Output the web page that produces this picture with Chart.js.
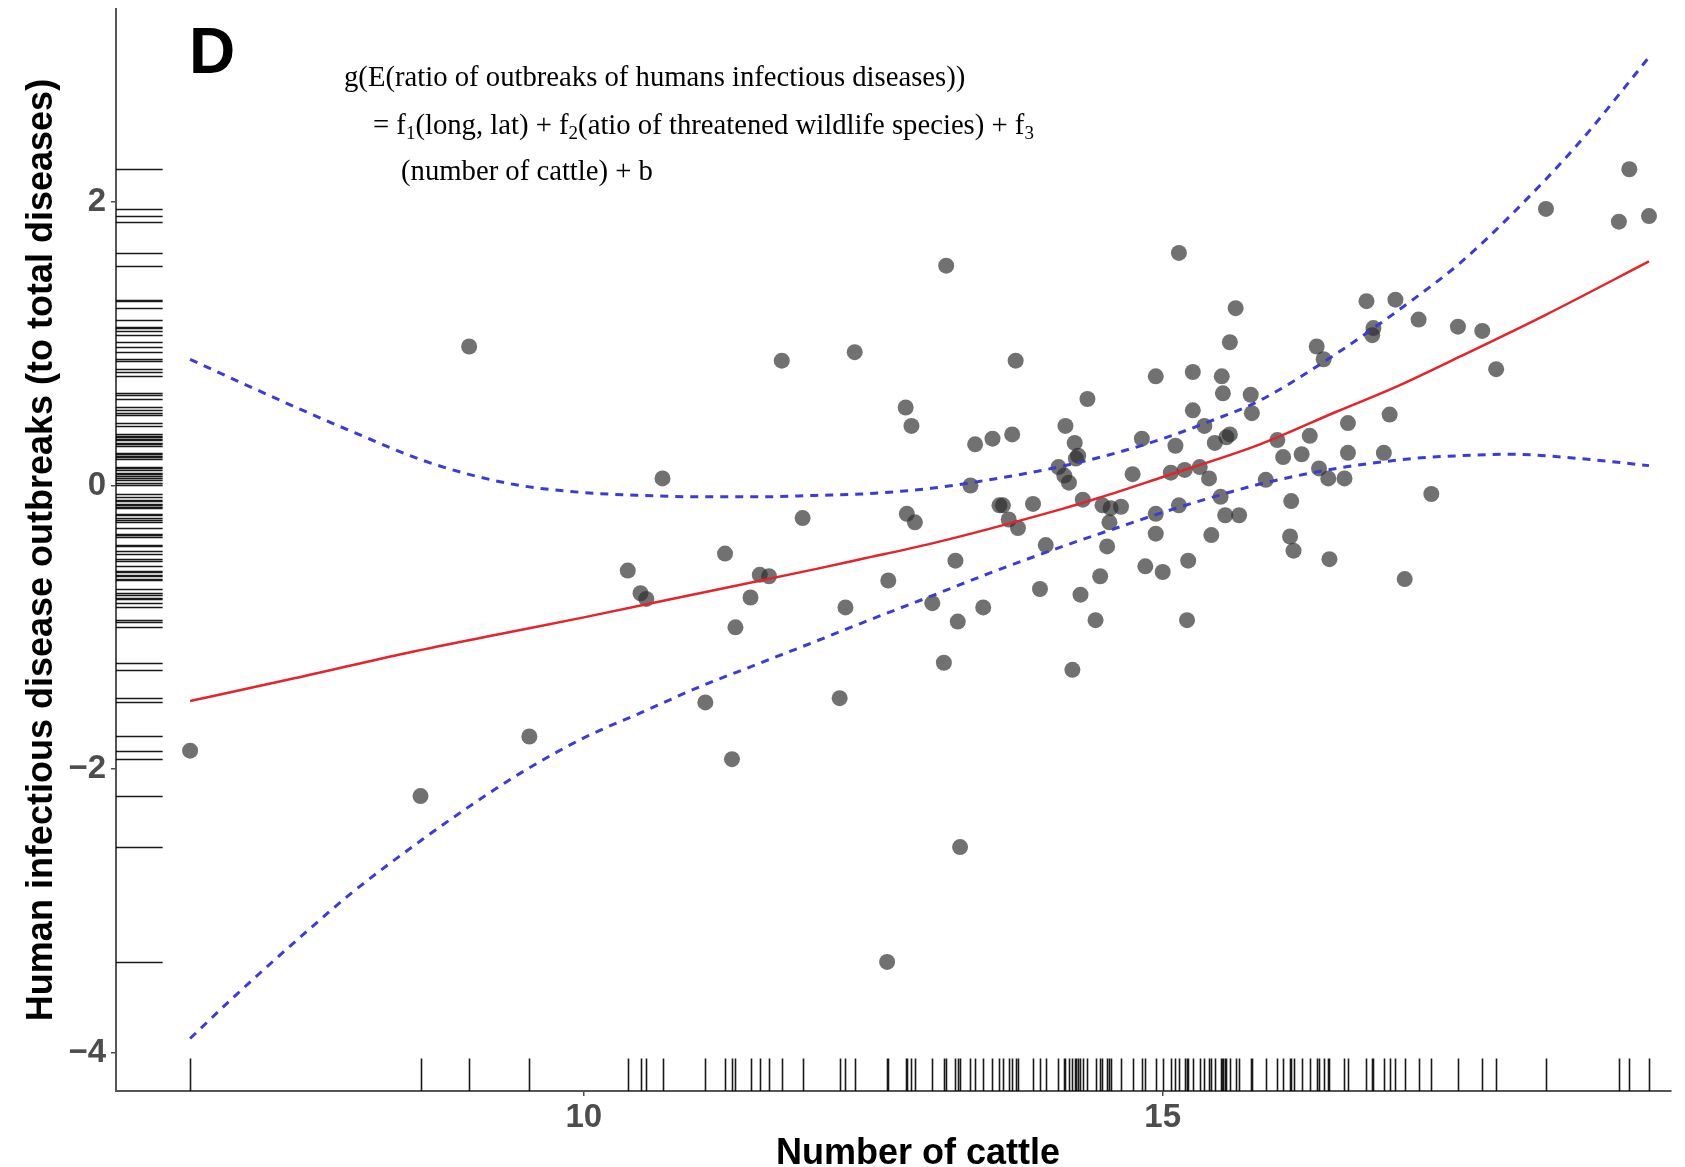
<!DOCTYPE html>
<html><head><meta charset="utf-8">
<script src="https://cdn.jsdelivr.net/npm/chart.js@4.4.1/dist/chart.umd.min.js"></script>
<style>html,body{margin:0;padding:0;background:#fff;overflow:hidden}#wrap{width:1685px;height:1167px}</style>
</head><body><div id="wrap"><canvas id="c" width="1685" height="1167"></canvas></div>
<script>
// ---- data ----
const pointX = [6.60, 8.59, 9.01, 9.53, 10.38, 10.49, 10.54, 10.68, 11.05, 11.22, 11.28, 11.31, 11.44, 11.52, 11.60, 11.71, 11.89, 12.21, 12.26, 12.34, 12.62, 12.63, 12.78, 12.79, 12.83, 12.86, 13.01, 13.11, 13.13, 13.21, 13.23, 13.25, 13.34, 13.38, 13.45, 13.53, 13.59, 13.62, 13.67, 13.70, 13.73, 13.75, 13.88, 13.94, 13.99, 14.10, 14.15, 14.16, 14.19, 14.22, 14.24, 14.25, 14.27, 14.29, 14.31, 14.35, 14.42, 14.46, 14.48, 14.52, 14.54, 14.55, 14.64, 14.74, 14.82, 14.85, 14.94, 14.94, 14.94, 15.00, 15.07, 15.11, 15.14, 15.14, 15.19, 15.21, 15.22, 15.26, 15.26, 15.32, 15.36, 15.40, 15.42, 15.45, 15.50, 15.51, 15.52, 15.54, 15.55, 15.58, 15.58, 15.63, 15.66, 15.76, 15.77, 15.89, 15.99, 16.04, 16.11, 16.10, 16.13, 16.20, 16.27, 16.33, 16.35, 16.39, 16.43, 16.44, 16.57, 16.60, 16.60, 16.76, 16.81, 16.82, 16.91, 16.96, 17.01, 17.09, 17.21, 17.32, 17.55, 17.76, 17.88, 18.31, 18.94, 19.03, 19.20];
const pointY = [-1.87, -2.19, 0.98, -1.77, -0.60, -0.76, -0.80, 0.05, -1.53, -0.48, -1.93, -1.00, -0.79, -0.63, -0.64, 0.88, -0.23, -1.50, -0.86, 0.94, -3.36, -0.67, 0.55, -0.20, 0.42, -0.26, -0.83, -1.25, 1.55, -0.53, -0.96, -2.55, 0.00, 0.29, -0.86, 0.33, -0.14, -0.14, -0.24, 0.36, 0.88, -0.30, -0.13, -0.73, -0.42, 0.13, 0.07, 0.42, 0.02, -1.30, 0.30, 0.19, 0.21, -0.77, -0.10, 0.61, -0.95, -0.64, -0.14, -0.43, -0.26, -0.16, -0.15, 0.08, 0.33, -0.57, 0.77, -0.34, -0.20, -0.61, 0.09, 0.28, 1.64, -0.14, 0.11, -0.95, -0.53, 0.80, 0.53, 0.13, 0.42, 0.05, -0.35, 0.30, -0.08, 0.77, 0.65, -0.21, 0.34, 1.01, 0.36, 1.25, -0.21, 0.64, 0.51, 0.04, 0.32, 0.20, -0.11, -0.36, -0.46, 0.22, 0.35, 0.98, 0.12, 0.89, 0.05, -0.52, 0.05, 0.44, 0.23, 1.30, 1.06, 1.11, 0.23, 0.50, 1.31, -0.66, 1.17, -0.06, 1.12, 1.09, 0.82, 1.95, 1.86, 2.23, 1.90];

const fitX = [6.6, 7.5, 8.42, 9.2, 10, 11, 12, 12.39, 13, 14.11, 14.46, 15, 15.84, 16.5, 17, 17.57, 18.3, 19.2];
const fitY = [-1.52, -1.36, -1.19, -1.06, -0.93, -0.76, -0.59, -0.52, -0.41, -0.17, -0.085, 0.06, 0.29, 0.52, 0.69, 0.91, 1.20, 1.58];

const ciX = [6.6, 7, 7.6, 8, 8.6, 9, 9.45, 10, 10.5, 11, 11.5, 12, 12.4, 13, 13.5, 14.1, 14.6, 15, 15.4, 15.84, 16.5, 17.16, 17.57, 18, 18.6, 19.2];
const ciUpper = [0.89, 0.74, 0.52, 0.38, 0.18, 0.08, 0.0, -0.05, -0.07, -0.08, -0.08, -0.07, -0.06, -0.02, 0.04, 0.13, 0.23, 0.33, 0.45, 0.60, 0.93, 1.31, 1.57, 1.90, 2.42, 3.02];
const ciLower = [-3.90, -3.59, -3.15, -2.87, -2.50, -2.27, -2.03, -1.78, -1.60, -1.42, -1.26, -1.10, -0.97, -0.78, -0.62, -0.44, -0.30, -0.19, -0.09, 0.01, 0.12, 0.19, 0.21, 0.22, 0.19, 0.14];

const xTicks = [10, 15];
const yTicks = [-4, -2, 0, 2];
const xTitle = 'Number of cattle';
const yTitle = 'Human infectious disease outbreaks (to total diseases)';
const panelLabel = 'D';
const eqLines = [
  [['g(E(ratio of outbreaks of humans infectious diseases))', 0]],
  [['= f', 0], ['1', 1], ['(long, lat) + f', 0], ['2', 1], ['(atio of threatened wildlife species) + f', 0], ['3', 1]],
  [['(number of cattle) + b', 0]]
];

// ---- helpers ----
const zip = (xs, ys) => xs.map((x, i) => ({x: x, y: ys[i]}));
const SANS = '"Liberation Sans", Arial, sans-serif';
const SERIF = '"Liberation Serif", "Times New Roman", serif';

const decor = {
  id: 'decor',
  beforeDatasetsDraw(chart) {
    const {ctx, scales: {x, y}, chartArea: a} = chart;
    ctx.save();
    ctx.strokeStyle = 'rgba(0,0,0,0.9)';
    ctx.lineWidth = 1.6;
    const xLen = 0.03 * (a.bottom - a.top);
    const yLen = 0.03 * (a.right - a.left);
    ctx.beginPath();
    pointX.forEach(v => {
      const px = Math.round(x.getPixelForValue(v)) + 0.5;
      ctx.moveTo(px, a.bottom); ctx.lineTo(px, a.bottom - xLen);
    });
    pointY.forEach(v => {
      const py = Math.round(y.getPixelForValue(v)) + 0.5;
      ctx.moveTo(a.left, py); ctx.lineTo(a.left + yLen, py);
    });
    ctx.stroke();
    ctx.restore();
  },
  afterDraw(chart) {
    const {ctx} = chart;
    ctx.save();
    ctx.fillStyle = '#000';
    ctx.font = 'bold 64px ' + SANS;
    ctx.textBaseline = 'alphabetic';
    ctx.textAlign = 'left';
    ctx.fillText(panelLabel, 189, 73);
    const starts = [[344, 86], [373, 134], [401, 180]];
    eqLines.forEach((runs, li) => {
      let cx = starts[li][0];
      const by = starts[li][1];
      runs.forEach(([t, sub]) => {
        ctx.font = (sub ? '19px ' : '28.7px ') + SERIF;
        ctx.fillText(t, cx, by + (sub ? 5 : 0));
        cx += ctx.measureText(t).width;
      });
    });
    ctx.font = 'bold 36px ' + SANS;
    ctx.textAlign = 'center';
    ctx.fillText(xTitle, 918, 1164);
    ctx.restore();
  }
};

const tickFont = {family: SANS, weight: 'bold', size: 33};

new Chart(document.getElementById('c'), {
  type: 'scatter',
  data: {
    datasets: [
      {label: 'points', data: zip(pointX, pointY), order: 4,
       backgroundColor: 'rgba(45,45,45,0.68)', borderWidth: 0, pointRadius: 8, pointHoverRadius: 8},
      {label: 'lower', type: 'line', data: zip(ciX, ciLower), order: 2, showLine: true,
       borderColor: '#3b3bd6', borderWidth: 3, borderDash: [8, 7], pointRadius: 0, fill: false,
       cubicInterpolationMode: 'monotone'},
      {label: 'upper', type: 'line', data: zip(ciX, ciUpper), order: 2, showLine: true,
       borderColor: '#3b3bd6', borderWidth: 3, borderDash: [8, 7], pointRadius: 0, fill: false,
       cubicInterpolationMode: 'monotone'},
      {label: 'fit', type: 'line', data: zip(fitX, fitY), order: 1, showLine: true,
       borderColor: '#e3242b', borderWidth: 2.5, pointRadius: 0, fill: false,
       cubicInterpolationMode: 'monotone'}
    ]
  },
  options: {
    responsive: false,
    animation: false,
    devicePixelRatio: 1,
    layout: {autoPadding: false, padding: {left: 0, right: 14, top: 9, bottom: 0}},
    plugins: {legend: {display: false}, tooltip: {enabled: false}},
    scales: {
      x: {
        type: 'linear', min: 5.96, max: 19.39,
        afterBuildTicks: s => { s.ticks = xTicks.map(v => ({value: v})); },
        afterFit: s => { s.height = 76; s.paddingLeft = 0; s.paddingRight = 0; },
        ticks: {font: tickFont, color: '#4d4d4d', padding: 2, maxRotation: 0, autoSkip: false},
        grid: {drawOnChartArea: false, drawTicks: true, tickLength: 5, color: '#4d4d4d', lineWidth: 1.5},
        border: {display: true, color: '#555', width: 2},
        title: {display: false}
      },
      y: {
        type: 'linear', min: -4.27, max: 3.36,
        afterBuildTicks: s => { s.ticks = yTicks.map(v => ({value: v})); },
        afterFit: s => { s.width = 116; s.paddingTop = 0; s.paddingBottom = 0; },
        ticks: {font: tickFont, color: '#4d4d4d', padding: 5, autoSkip: false,
                callback: v => (v < 0 ? '\u2212' + Math.abs(v) : String(v))},
        grid: {drawOnChartArea: false, drawTicks: true, tickLength: 5, color: '#4d4d4d', lineWidth: 1.5},
        border: {display: true, color: '#555', width: 2},
        title: {display: true, text: yTitle, color: '#000',
                font: {family: SANS, weight: 'bold', size: 36}, padding: {top: 20, bottom: 0}}
      }
    }
  },
  plugins: [decor]
});
</script>
</body></html>
